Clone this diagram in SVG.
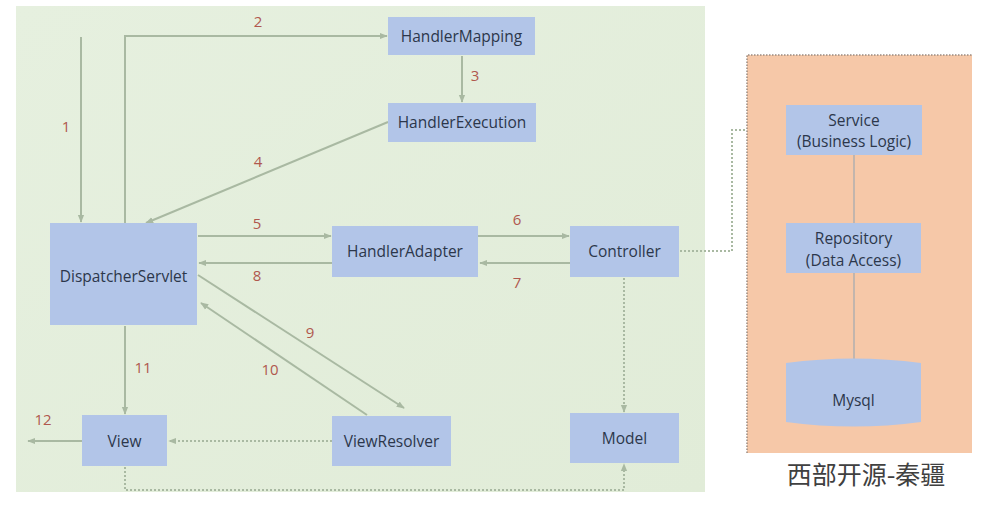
<svg xmlns="http://www.w3.org/2000/svg" width="1003" height="512" viewBox="0 0 1003 512">
<defs>
<marker id="ah" viewBox="0 0 10 10" refX="9" refY="5" markerWidth="8" markerHeight="8" markerUnits="userSpaceOnUse" orient="auto">
<path d="M0,1 L10,5 L0,9 z" fill="#a9b9a2"/>
</marker>
<linearGradient id="bg" x1="0" y1="0" x2="1" y2="1">
<stop offset="0" stop-color="#e6f0df"/>
<stop offset="1" stop-color="#e1ecd8"/>
</linearGradient>
<style>
.n{fill:#b2c5e8;}
.t{font-family:"Open Sans","Liberation Sans",sans-serif;font-size:15.5px;fill:#2c374b;text-anchor:middle;}
.l{font-family:"Open Sans","Liberation Sans",sans-serif;font-size:15px;fill:#b0584e;text-anchor:middle;}
.c{fill:none;stroke:#a9b9a2;stroke-width:2;}
.d{fill:none;stroke:#a9b9a2;stroke-width:2;stroke-dasharray:2 2;}
.s{fill:none;stroke:#c2b5ad;stroke-width:2;}
</style>
</defs>
<rect width="1003" height="512" fill="#ffffff"/>
<rect x="16" y="6" width="689" height="486" fill="url(#bg)"/>
<g id="connectors">
<path class="c" d="M81,37 V222" marker-end="url(#ah)"/>
<path class="c" d="M125,223 V36 H387" marker-end="url(#ah)"/>
<path class="c" d="M462,56 V102" marker-end="url(#ah)"/>
<path class="c" d="M388,122 L146,223" marker-end="url(#ah)"/>
<path class="c" d="M198,236 H331" marker-end="url(#ah)"/>
<path class="c" d="M332,263 H199" marker-end="url(#ah)"/>
<path class="c" d="M478,236 H569" marker-end="url(#ah)"/>
<path class="c" d="M570,263 H480" marker-end="url(#ah)"/>
<path class="c" d="M198,275 L404,408" marker-end="url(#ah)"/>
<path class="c" d="M367,415 L201,303" marker-end="url(#ah)"/>
<path class="c" d="M125,326 V414" marker-end="url(#ah)"/>
<path class="c" d="M82,441 H28" marker-end="url(#ah)"/>
<path class="d" d="M332,441 H169" marker-end="url(#ah)"/>
<path class="d" d="M624,278 V412" marker-end="url(#ah)"/>
<path class="d" d="M125,467 V490 H624 V464" marker-end="url(#ah)"/>
<path class="d" d="M680,251 H732 V130 H785"/>
</g>
<g id="panel">
<rect x="747" y="55" width="225" height="398" fill="#f6c8a8"/>
<path d="M747,453 V55 H972" fill="none" stroke="#9a8a80" stroke-width="1.5" stroke-dasharray="1.5 1.5"/>
<path class="s" d="M854,155 V223"/>
<path class="s" d="M854,273 V360"/>
</g>
<g id="labels">
<text class="l" x="66" y="132">1</text>
<text class="l" x="258" y="27">2</text>
<text class="l" x="475" y="81">3</text>
<text class="l" x="258" y="167">4</text>
<text class="l" x="257" y="229">5</text>
<text class="l" x="517" y="225">6</text>
<text class="l" x="517" y="288">7</text>
<text class="l" x="257" y="281">8</text>
<text class="l" x="310" y="338">9</text>
<text class="l" x="270" y="375">10</text>
<text class="l" x="143" y="373">11</text>
<text class="l" x="43" y="425">12</text>
</g>
<g id="HandlerMapping"><rect class="n" x="388" y="17" width="147" height="38"/><text class="t" x="461.5" y="41.5">HandlerMapping</text></g>
<g id="HandlerExecution"><rect class="n" x="388" y="103" width="148" height="39"/><text class="t" x="462" y="128">HandlerExecution</text></g>
<g id="DispatcherServlet"><rect class="n" x="50" y="223" width="147" height="102"/><text class="t" x="123.5" y="282">DispatcherServlet</text></g>
<g id="HandlerAdapter"><rect class="n" x="332" y="226" width="146" height="51"/><text class="t" x="405" y="257">HandlerAdapter</text></g>
<g id="Controller"><rect class="n" x="570" y="226" width="109" height="51"/><text class="t" x="624.5" y="257">Controller</text></g>
<g id="View"><rect class="n" x="82" y="415" width="85" height="51"/><text class="t" x="124.5" y="447">View</text></g>
<g id="ViewResolver"><rect class="n" x="332" y="416" width="119" height="50"/><text class="t" x="391.5" y="447">ViewResolver</text></g>
<g id="Model"><rect class="n" x="570" y="413" width="109" height="50"/><text class="t" x="624.5" y="444">Model</text></g>
<g id="Service"><rect class="n" x="786" y="105" width="136" height="50"/><text class="t" x="854" y="126">Service</text><text class="t" x="854" y="147">(Business Logic)</text></g>
<g id="Repository"><rect class="n" x="786" y="223" width="135" height="50"/><text class="t" x="853.5" y="244">Repository</text><text class="t" x="853.5" y="266">(Data Access)</text></g>
<g id="Mysql"><path class="n" d="M786,363 Q853.5,354 921,363 V422 Q853.5,431 786,422 Z"/><text class="t" x="853.5" y="406">Mysql</text></g>
<text x="866" y="484" font-family="'Noto Sans CJK SC',sans-serif" font-size="25" fill="#404040" text-anchor="middle">西部开源-秦疆</text>
</svg>
